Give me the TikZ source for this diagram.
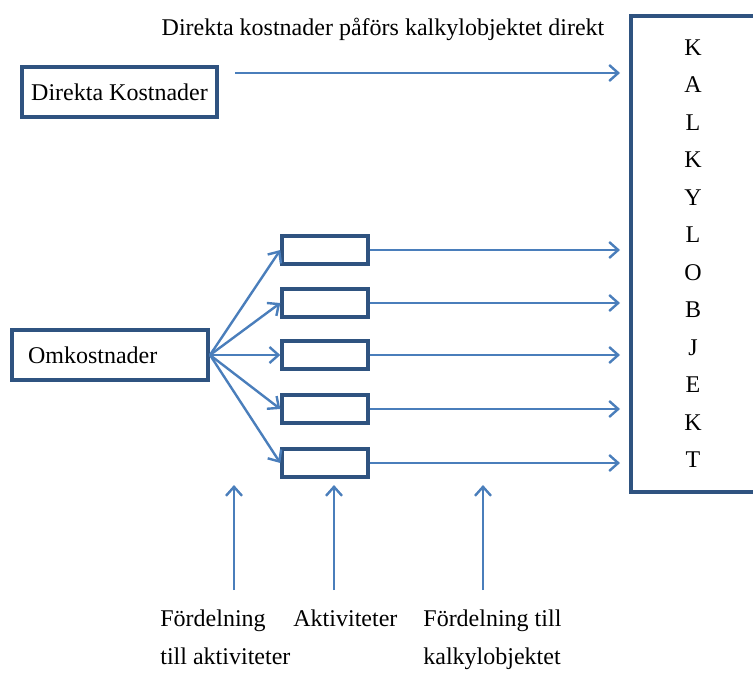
\documentclass[tikz,border=0pt]{standalone}
\usepackage{fontspec}
\setmainfont{Liberation Serif}
\usetikzlibrary{arrows.meta, positioning}
\definecolor{boxblue}{HTML}{2F5380}
\definecolor{arrowblue}{HTML}{4A7EBB}
\tikzstyle{block} = [draw=boxblue, line width=2pt, fill=white, rectangle, inner sep=0pt]
\tikzstyle{smallblock} = [block, line width=1.7pt, minimum width=43pt, minimum height=14pt]
\tikzstyle{flow} = [draw=arrowblue, line width=1.2pt, -{Straight Barb[length=4.5pt, width=8pt]}]
\tikzstyle{caption} = [inner sep=0pt, align=left, anchor=north west]

\begin{document}
\begin{tikzpicture}[x=0.5pt, y=-0.5pt, font=\fontsize{12}{19}\selectfont]
    \useasboundingbox (0,0) rectangle (753,675);
    % sources and object
    \node [block, minimum width=97.5pt, minimum height=25pt] (direkta) at (119.5,92) {Direkta Kostnader};
    \node [block, minimum width=98pt, minimum height=25pt, text width=90pt, align=left] (omk) at (110,355) {\hspace{4pt}Omkostnader};
    \node [block, minimum width=90pt, minimum height=238pt, anchor=north west] (kalkyl) at (629,14) {};
    \node [inner sep=0pt, align=center, anchor=north, font=\fontsize{12}{18.75}\selectfont] (bokst) at (693,39)
        {K\\A\\L\\K\\Y\\L\\O\\B\\J\\E\\K\\T};
    \node (titel) at (383,29) {Direkta kostnader påförs kalkylobjektet direkt};
    \coordinate (dstart) at (235,73);
    \draw [flow, shorten >=4.5pt] (dstart) -- (dstart -| kalkyl.west);
    % activities
    \foreach \i/\y in {1/250,2/303,3/355,4/409,5/463} {
        \node [smallblock] (akt\i) at (325,\y) {};
        \draw [flow] (omk.east) -- (akt\i.west);
        \draw [flow, shorten >=4.5pt] (akt\i.east) -- (akt\i.east -| kalkyl.west);
    }
    % captions below
    \node [caption] (fordakt) at (160,609) {Fördelning\\till aktiviteter};
    \node [caption] (aktiv) at (293,609) {Aktiviteter};
    \node [caption] (fordkalk) at (423,609) {Fördelning till\\kalkylobjektet};
    \coordinate (u1) at (234,590); \coordinate (v1) at (234,485);
    \coordinate (u2) at (334,590); \coordinate (v2) at (334,485);
    \coordinate (u3) at (483,590); \coordinate (v3) at (483,485);
    \draw [flow] (u1) -- (v1);
    \draw [flow] (u2) -- (v2);
    \draw [flow] (u3) -- (v3);
\end{tikzpicture}
\end{document}
